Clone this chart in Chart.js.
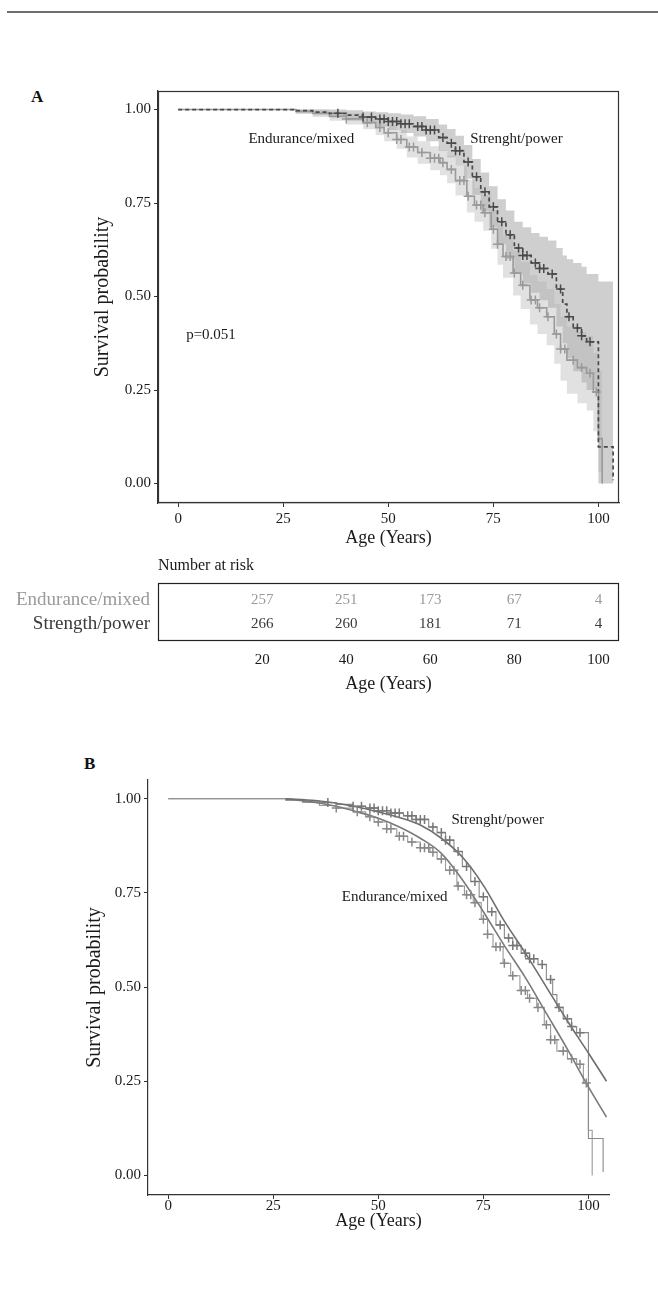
<!DOCTYPE html>
<html><head><meta charset="utf-8">
<script src="https://cdn.jsdelivr.net/npm/chart.js@4.4.1/dist/chart.umd.min.js"></script>
<style>
html,body{margin:0;padding:0;background:#fff;}
body{width:658px;height:1291px;position:relative;overflow:hidden;font-family:"Liberation Serif","Times New Roman",serif;}
.rule{position:absolute;left:7px;top:11px;width:651px;height:0;border-top:2px solid #6e6e6e;}
.panel{position:absolute;font-weight:bold;font-size:17px;color:#111;line-height:20px;}
canvas{position:absolute;left:0;}
</style></head><body>
<div class="rule"></div>
<div class="panel" style="left:31px;top:87px">A</div>
<div class="panel" style="left:84px;top:754px">B</div>
<canvas id="cA" width="658" height="500" style="top:60px;width:658px;height:500px"></canvas>
<canvas id="cR" width="658" height="150" style="top:550px;width:658px;height:150px"></canvas>
<canvas id="cB" width="658" height="510" style="top:740px;width:658px;height:510px"></canvas>
<script>
// ---------- data ----------
const xTicks = [0, 25, 50, 75, 100];
const yTicks = [0, 0.25, 0.5, 0.75, 1];

const strengthTimes = [0,28,32,36,40,44,47,50,53,56,59,62,64,66,68,70,72,74,76,78,80,82,84,86,88,90,91.5,92.5,94,96,97.2,100,103.5];
const strengthSurv  = [1,0.997,0.993,0.99,0.985,0.98,0.975,0.968,0.962,0.955,0.945,0.925,0.91,0.89,0.86,0.82,0.78,0.74,0.70,0.665,0.63,0.61,0.59,0.575,0.56,0.52,0.48,0.446,0.416,0.395,0.379,0.098,0.009];
const strengthLower = [1,0.99,0.985,0.978,0.97,0.963,0.955,0.945,0.937,0.928,0.915,0.89,0.872,0.85,0.815,0.772,0.728,0.685,0.64,0.60,0.56,0.535,0.51,0.49,0.47,0.42,0.375,0.335,0.30,0.27,0.25,0.0,0.0];
const strengthUpper = [1,1,1,1,0.998,0.995,0.993,0.99,0.987,0.982,0.975,0.96,0.948,0.93,0.905,0.868,0.832,0.795,0.76,0.73,0.70,0.685,0.67,0.66,0.65,0.63,0.61,0.60,0.59,0.58,0.56,0.54,0.54];

const enduranceTimes = [0,28,32,36,40,44,47,49,52,54.4,57,60,62.3,64,66,68.7,70.5,72.6,74.5,76,77.3,79.7,81.5,83.7,85.5,87.7,89.5,91,92.5,95,97.2,98.8,100,100.9];
const enduranceSurv  = [1,0.995,0.99,0.982,0.975,0.965,0.952,0.938,0.92,0.90,0.885,0.87,0.858,0.84,0.81,0.768,0.745,0.724,0.68,0.64,0.607,0.563,0.53,0.491,0.47,0.446,0.40,0.36,0.33,0.31,0.295,0.245,0.12,0.0];
const enduranceLower = [1,0.988,0.98,0.97,0.96,0.947,0.932,0.915,0.895,0.872,0.855,0.838,0.824,0.803,0.77,0.725,0.70,0.676,0.628,0.585,0.55,0.503,0.467,0.425,0.40,0.37,0.32,0.275,0.24,0.215,0.195,0.14,0.03,0.0];
const enduranceUpper = [1,1,1,0.995,0.99,0.983,0.972,0.96,0.945,0.928,0.915,0.902,0.892,0.877,0.85,0.812,0.79,0.772,0.732,0.695,0.664,0.623,0.593,0.557,0.54,0.52,0.48,0.445,0.42,0.405,0.395,0.35,0.30,0.0];

const strengthCensor  = [38,44,46,48,49,50,51,52,53,54,55,57,58,59,60,61,63,65,66,67,69,71,73,75,77,79,81,82,83,85,86,87,89,91,93,95,96,98];
const enduranceCensor = [40,45,48,50,52,53,55,56,58,60,61,62,63,65,67,68,69,71,72,73,75,76,78,79,80,82,84,85,86,88,90,91,92,94,96,98,99.5];

const riskAges = [20, 40, 60, 80, 100];
const riskGroups = ['Endurance/mixed', 'Strength/power'];
const enduranceAtRisk = [257, 251, 173, 67, 4];
const strengthAtRisk  = [266, 260, 181, 71, 4];

const fitAges = [28,35,40,45,50,55,60,65,70,75,80,85,90,95,100,104.3];
const strengthFit  = [1.0,0.995,0.988,0.978,0.965,0.95,0.93,0.895,0.845,0.77,0.675,0.59,0.50,0.41,0.325,0.25];
const enduranceFit = [1.0,0.99,0.98,0.965,0.948,0.925,0.895,0.855,0.785,0.70,0.61,0.525,0.43,0.335,0.235,0.155];

// ---------- helpers ----------
const FONT = '"Liberation Serif","Times New Roman",serif';
Chart.defaults.font.family = FONT;
Chart.defaults.color = '#1a1a1a';
const DARK = '#4a4a4a', LIGHT = '#9a9a9a', TXT = '#1a1a1a';

function pts(xs, ys){ return xs.map((x,i)=>({x:x, y:ys[i]})); }
function survAt(times, surv, t){ let s = surv[0]; for (let i=0;i<times.length;i++){ if (times[i] <= t) s = surv[i]; } return s; }
function censorPts(ct, times, surv){ return ct.map(t=>({x:t, y:survAt(times, surv, t)})); }
function fixW(w){ return s=>{ s.width = w; }; }
function fixH(h){ return s=>{ s.height = h; }; }
function setTicks(v){ return s=>{ s.ticks = v.map(x=>({value:x})); }; }

const textPlugin = { id:'texts', afterDatasetsDraw(chart, args, opts){
  const ctx = chart.ctx, xs = chart.scales.x, ys = chart.scales.y;
  (opts.items||[]).forEach(it=>{
    ctx.save(); ctx.font = (it.size||15)+'px '+FONT; ctx.fillStyle = TXT;
    ctx.textAlign = it.align||'center'; ctx.textBaseline = 'middle';
    ctx.fillText(it.text, xs.getPixelForValue(it.x), ys.getPixelForValue(it.y)); ctx.restore();
  });
}};
const boxPlugin = { id:'box', afterDraw(chart, args, opts){
  if (!opts.show) return;
  const ctx = chart.ctx, a = chart.chartArea;
  ctx.save(); ctx.strokeStyle = opts.color||'#333'; ctx.lineWidth = 1.2;
  ctx.strokeRect(Math.round(a.left)+0.5, Math.round(a.top)+0.5, Math.round(a.right-a.left)-1, Math.round(a.bottom-a.top)-1);
  ctx.restore();
}};
const XMIN = -4.8, XMAX = 104.9;

function axisX(h, titlePadBottom, tickPad){
  return { type:'linear', min:XMIN, max:XMAX, afterBuildTicks:setTicks(xTicks), afterFit:fixH(h),
    grid:{display:true, drawOnChartArea:false, drawTicks:true, tickLength:4, color:'#333', lineWidth:1},
    border:{display:true, color:'#333', width:1.2},
    ticks:{font:{size:15}, color:TXT, padding:tickPad, maxRotation:0, autoSkip:false, callback:v=>String(v)},
    title:{display:true, text:'Age (Years)', color:TXT, font:{size:18}, padding:{top:0, bottom:titlePadBottom}} };
}
function axisY(w, titlePadTop){
  return { type:'linear', min:-0.052, max:1.0496, afterBuildTicks:setTicks(yTicks), afterFit:fixW(w),
    grid:{display:true, drawOnChartArea:false, drawTicks:true, tickLength:4, color:'#333', lineWidth:1},
    border:{display:true, color:'#333', width:1.2},
    ticks:{font:{size:15}, color:TXT, padding:3, callback:v=>Number(v).toFixed(2)},
    title:{display:true, text:'Survival probability', color:TXT, font:{size:20}, padding:{top:titlePadTop, bottom:0}} };
}
const base = { responsive:false, animation:false, devicePixelRatio:1, events:[] };

// ---------- Panel A ----------
new Chart(document.getElementById('cA'), {
  type:'line',
  data:{ datasets:[
    {data:pts(strengthTimes, strengthUpper), stepped:true, borderColor:'rgba(0,0,0,0)', borderWidth:1, pointRadius:0, fill:'+1', backgroundColor:'rgba(130,130,130,0.38)', order:10},
    {data:pts(strengthTimes, strengthLower), stepped:true, borderColor:'rgba(0,0,0,0)', borderWidth:1, pointRadius:0, fill:false, order:10},
    {data:pts(enduranceTimes, enduranceUpper), stepped:true, borderColor:'rgba(0,0,0,0)', borderWidth:1, pointRadius:0, fill:'+1', backgroundColor:'rgba(175,175,175,0.38)', order:9},
    {data:pts(enduranceTimes, enduranceLower), stepped:true, borderColor:'rgba(0,0,0,0)', borderWidth:1, pointRadius:0, fill:false, order:9},
    {data:pts(enduranceTimes, enduranceSurv), stepped:true, borderColor:LIGHT, borderWidth:1.6, pointRadius:0, fill:false, order:5},
    {data:pts(strengthTimes, strengthSurv), stepped:true, borderColor:DARK, borderWidth:1.7, borderDash:[4,3], pointRadius:0, fill:false, order:4},
    {data:censorPts(enduranceCensor, enduranceTimes, enduranceSurv), showLine:false, pointStyle:'cross', pointRadius:4.5, borderColor:LIGHT, borderWidth:1.5, order:2},
    {data:censorPts(strengthCensor, strengthTimes, strengthSurv), showLine:false, pointStyle:'cross', pointRadius:4.5, borderColor:DARK, borderWidth:1.5, order:1}
  ]},
  options:Object.assign({}, base, {
    layout:{padding:{top:31, right:39, left:0, bottom:0}},
    scales:{ x:axisX(57, 11, 3), y:axisY(158, 91) },
    plugins:{ legend:{display:false}, tooltip:{enabled:false},
      box:{show:true, color:'#333'},
      texts:{items:[
        {text:'Endurance/mixed', x:29.3, y:0.92},
        {text:'Strenght/power', x:80.5, y:0.921},
        {text:'p=0.051', x:1.9, y:0.397, align:'left'}
      ]}
    }
  }),
  plugins:[textPlugin, boxPlugin]
});

// ---------- Number at risk ----------
const riskPlugin = { id:'risk', afterDraw(chart){
  const ctx = chart.ctx, xs = chart.scales.x, ys = chart.scales.y, a = chart.chartArea;
  ctx.save();
  ctx.font = '16px '+FONT; ctx.fillStyle = TXT; ctx.textAlign = 'left'; ctx.textBaseline = 'middle';
  ctx.fillText('Number at risk', a.left, a.top - 17);
  ctx.font = '15px '+FONT; ctx.textAlign = 'center';
  [[enduranceAtRisk, LIGHT], [strengthAtRisk, '#3a3a3a']].forEach((row, r)=>{
    ctx.fillStyle = row[1];
    row[0].forEach((v, i)=>{ ctx.fillText(String(v), xs.getPixelForValue(riskAges[i]), ys.getPixelForValue(r)); });
  });
  ctx.restore();
}};
new Chart(document.getElementById('cR'), {
  type:'line',
  data:{ datasets:[{data:[], pointRadius:0, showLine:false}] },
  options:Object.assign({}, base, {
    layout:{padding:{top:33, right:39, left:0, bottom:0}},
    scales:{
      x:{ type:'linear', min:XMIN, max:XMAX, afterBuildTicks:setTicks(riskAges), afterFit:fixH(59),
          grid:{display:false}, border:{display:false},
          ticks:{font:{size:15}, color:TXT, padding:2, maxRotation:0, autoSkip:false, callback:v=>String(v)},
          title:{display:true, text:'Age (Years)', color:TXT, font:{size:18}, padding:{top:0, bottom:5}} },
      y:{ type:'linear', min:-0.7, max:1.7, reverse:true, afterBuildTicks:setTicks([0,1]), afterFit:fixW(158),
          grid:{display:false}, border:{display:false},
          ticks:{font:{size:19}, padding:0, callback:v=>riskGroups[v], color:c=>(c.index===0 ? LIGHT : '#3a3a3a')} }
    },
    plugins:{ legend:{display:false}, tooltip:{enabled:false}, box:{show:true, color:'#222'} }
  }),
  plugins:[riskPlugin, boxPlugin]
});

// ---------- Panel B ----------
new Chart(document.getElementById('cB'), {
  type:'line',
  data:{ datasets:[
    {data:pts(strengthTimes, strengthSurv), stepped:true, borderColor:'#8a8a8a', borderWidth:1.1, pointRadius:0, fill:false, order:6},
    {data:pts(enduranceTimes, enduranceSurv), stepped:true, borderColor:'#9a9a9a', borderWidth:1.1, pointRadius:0, fill:false, order:7},
    {data:pts(fitAges, strengthFit), borderColor:'#6e6e6e', borderWidth:1.6, pointRadius:0, fill:false, cubicInterpolationMode:'monotone', order:4},
    {data:pts(fitAges, enduranceFit), borderColor:'#7a7a7a', borderWidth:1.6, pointRadius:0, fill:false, cubicInterpolationMode:'monotone', order:5},
    {data:censorPts(strengthCensor, strengthTimes, strengthSurv), showLine:false, pointStyle:'cross', pointRadius:4.5, borderColor:'#777', borderWidth:1.5, order:1},
    {data:censorPts(enduranceCensor, enduranceTimes, enduranceSurv), showLine:false, pointStyle:'cross', pointRadius:4.5, borderColor:'#888', borderWidth:1.5, order:2}
  ]},
  options:Object.assign({}, base, {
    layout:{padding:{top:40, right:49, left:0, bottom:0}},
    scales:{ x:axisX(55, 18, -2), y:axisY(148, 83) },
    plugins:{ legend:{display:false}, tooltip:{enabled:false}, box:{show:false},
      texts:{items:[
        {text:'Strenght/power', x:78.4, y:0.944},
        {text:'Endurance/mixed', x:53.9, y:0.738}
      ]}
    }
  }),
  plugins:[textPlugin, boxPlugin]
});
</script>
</body></html>
